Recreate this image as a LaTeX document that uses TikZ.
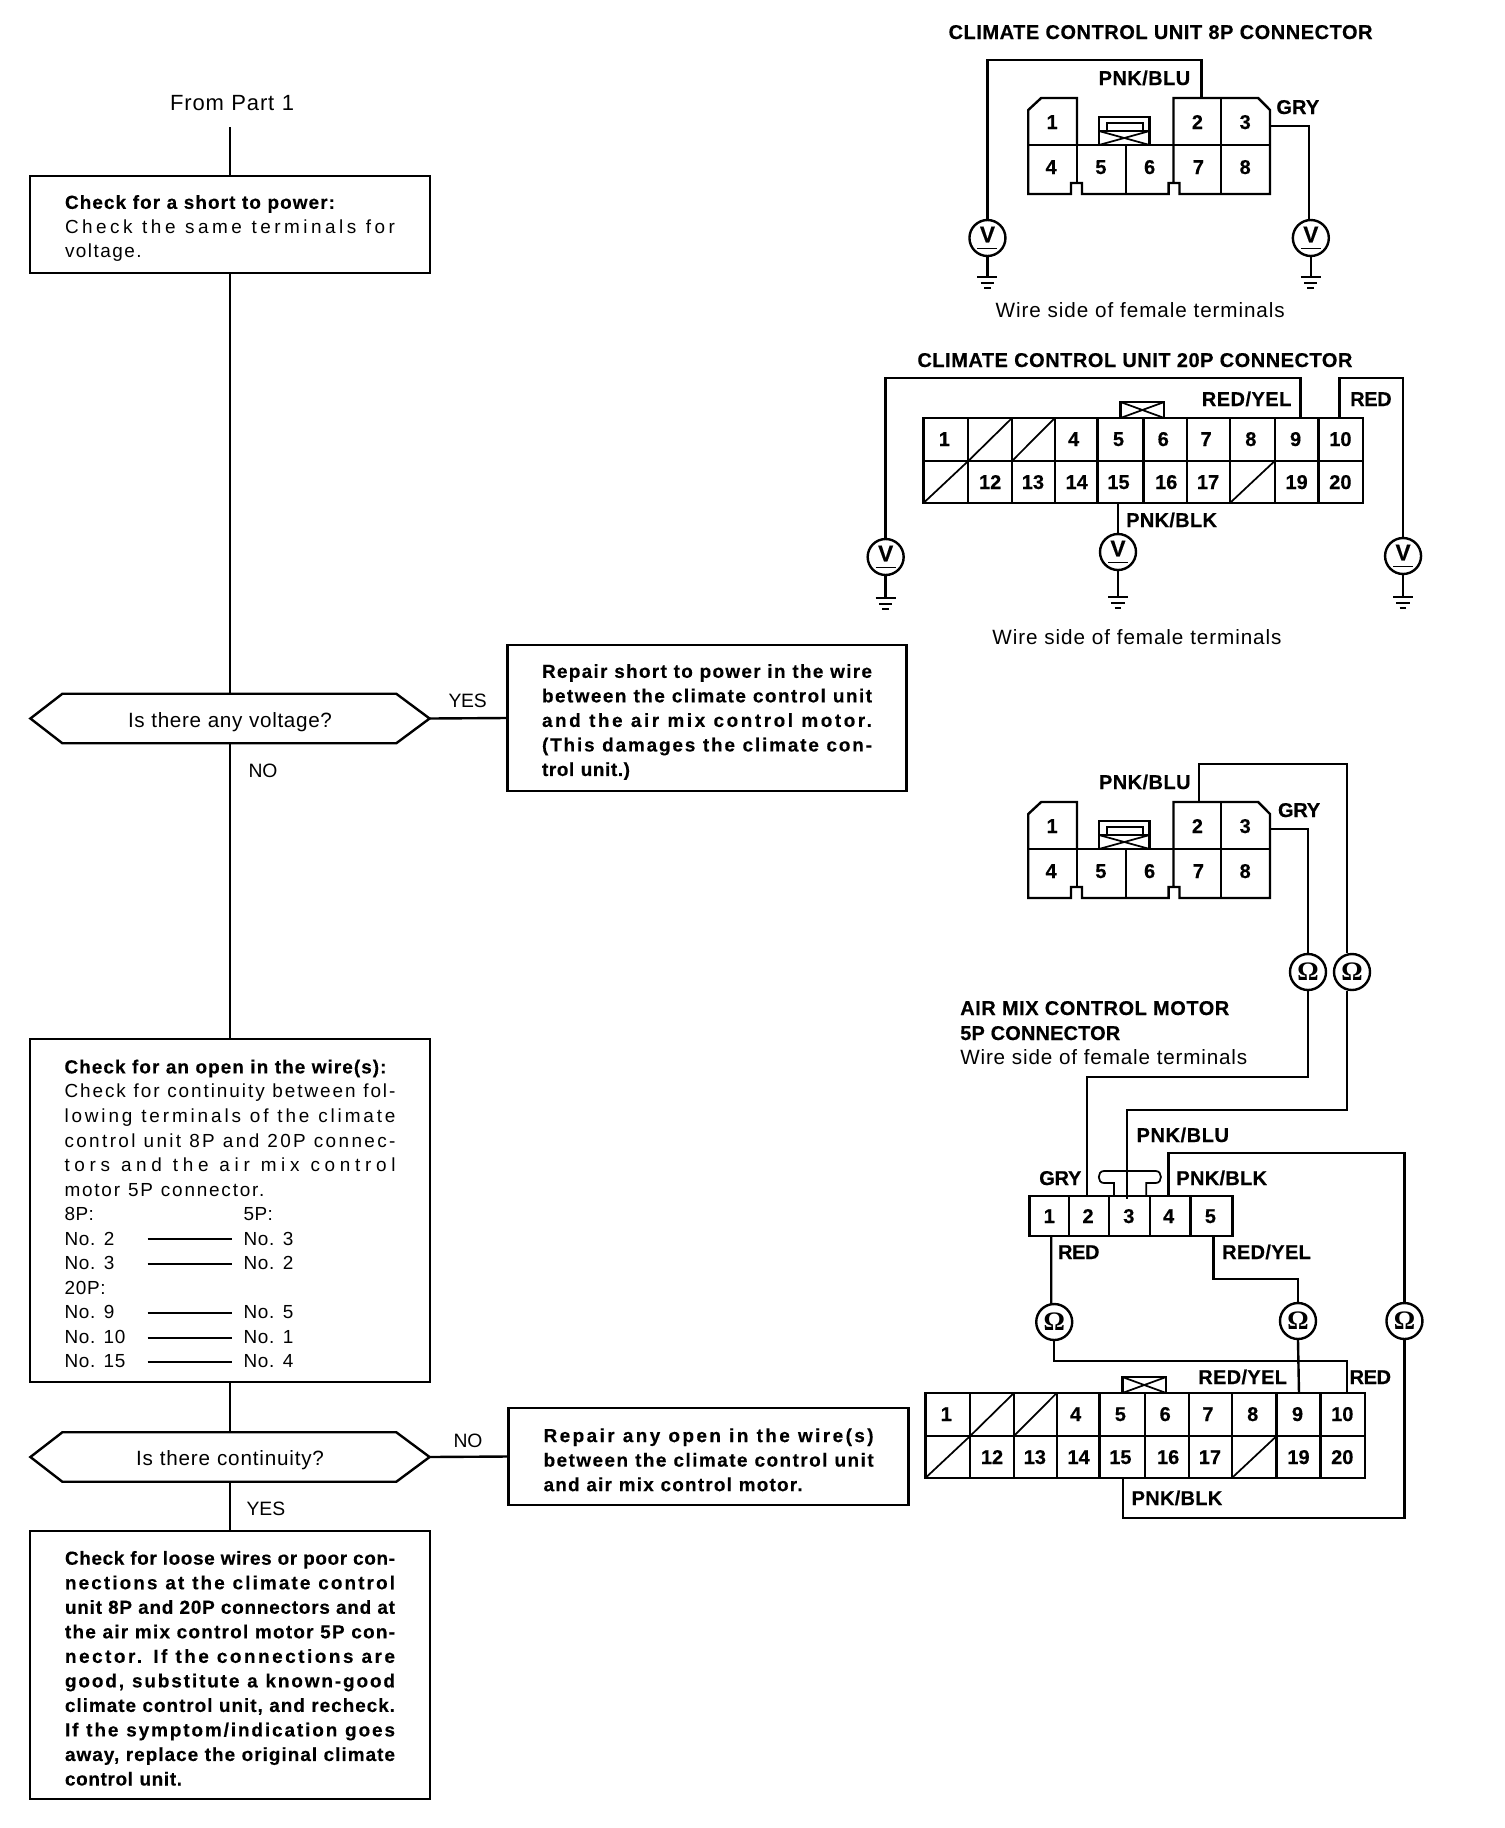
\documentclass[tikz,border=0pt]{standalone}
\usepackage{fontspec}
\setmainfont{Liberation Sans}[BoldFeatures={FakeBold=0.35}]
\newfontfamily\omegafont{Liberation Serif}
\ExplSyntaxOn
\NewDocumentCommand\FT{mm}{
  \group_begin:
  \hbox_set:Nn \l_tmpa_box {#2}
  \tl_set:Nx \l_tmpa_tl { \fp_eval:n { round( ( (#1)*0.75 - \dim_to_fp:n{\box_wd:N \l_tmpa_box} ) / \tl_count:n{#2} / \dim_to_fp:n{1em} * 100 , 2) } }
  \exp_args:Nx \addfontfeature { LetterSpace = \l_tmpa_tl }
  \hbox_to_wd:nn { \fp_to_dim:n { (#1)*0.75pt } } {#2}
  \group_end:
}
\ExplSyntaxOff
\tikzset{
  wire/.style={line width=1.8pt,line join=miter},
  thinw/.style={line width=1.3pt},
  flow/.style={line width=1.8pt},
  flowbox/.style={draw,line width=1.8pt,inner sep=0pt,font=\fontsize{14.2}{18.4}\selectfont},
  hexa/.style={inner sep=0pt,minimum width=299pt,minimum height=36.75pt,font=\fontsize{15.5}{18}\selectfont,text height=15pt,text depth=1.6pt},
  lab/.style={inner sep=0pt,font=\fontsize{15}{16}\selectfont\bfseries,text height=10.5pt,text depth=0pt},
  reg/.style={inner sep=0pt,font=\fontsize{15.5}{17}\selectfont,text height=10.5pt,text depth=0pt},
  yn/.style={inner sep=0pt,font=\fontsize{14.5}{17}\selectfont,text height=10.5pt,text depth=0pt},
  num/.style={inner sep=0pt,font=\fontsize{15}{16}\selectfont\bfseries,text height=10.5pt,text depth=0pt},
  meter/.style={draw,circle,line width=1.8pt,minimum size=27pt,inner sep=0pt},
}
\newcommand\Rowline[4]{\hbox{\hbox to 62.25pt{\FT{#2}{#1}\hss}\rule[3.5pt]{63pt}{1.5pt}\kern9pt \FT{#4}{#3}}}
\newcommand\VM[3]{\node[meter] (#1) at (#2,#3) {\vbox{\offinterlineskip\hsize=15pt\hbox to 15pt{\hss\fontsize{17}{17}\selectfont\bfseries V\hss}\kern4pt\hrule height 1.3pt}};}
\newcommand\OM[3]{\node[meter] (#1) at (#2,#3) {\fontsize{20}{20}\omegafont\bfseries Ω};}
\newcommand\GND[3]{\coordinate (#1) at (#2,#3);
  \draw[thinw] ([xshift=-7.5pt]#1) -- ([xshift=7.5pt]#1);
  \draw[thinw] ([shift={(-5pt,-4.5pt)}]#1) -- ([shift={(5pt,-4.5pt)}]#1);
  \draw[thinw] ([shift={(-2.5pt,-8.5pt)}]#1) -- ([shift={(2.5pt,-8.5pt)}]#1);}
\newcommand\EightP{%
  \draw[wire] (1029,145) -- (1029,110) -- (1042,98) -- (1078,98) -- (1078,145);
  \draw[wire] (1029,145) -- (1029,194) -- (1072,194) -- (1072,183) -- (1083,183) -- (1083,194) -- (1170,194) -- (1170,183) -- (1181,183) -- (1181,194) -- (1272,194) -- (1272,110) -- (1260,98) -- (1175,98) -- (1175,183);
  \draw[wire] (1029,145) -- (1272,145);
  \draw[wire] (1078,145) -- (1078,183);
  \draw[wire] (1127,145) -- (1127,194);
  \draw[wire] (1223,98) -- (1223,194);
  \draw[wire] (1100,145) -- (1100,117) -- (1151,117) -- (1151,145);
  \draw[thinw] (1108,123) rectangle (1144,131);
  \draw[thinw] (1100,131) -- (1151,131);
  \draw[thinw] (1100,131) -- (1151,145);
  \draw[thinw] (1151,131) -- (1100,145);
  \foreach \n/\xx in {1/1053,2/1199,3/1247} \node[num] (n\n) at (\xx,122) {\n};
  \foreach \n/\xx in {4/1052,5/1102,6/1151,7/1200,8/1247} \node[num] (n\n) at (\xx,167) {\n};
}
\newcommand\TwentyP{%
  \draw[wire] (924,418) rectangle (1366,503);
  \draw[wire] (924,461) -- (1366,461);
  \foreach \xx in {969,1013,1056,1099,1145,1189,1232,1277,1321} \draw[wire] (\xx,418) -- (\xx,503);
  \draw[thinw] (969,461) -- (1013,418);
  \draw[thinw] (1013,461) -- (1056,418);
  \draw[thinw] (924,503) -- (969,461);
  \draw[thinw] (1232,503) -- (1277,461);
  \draw[wire] (1122,418) -- (1122,402) -- (1166,402) -- (1166,418);
  \draw[thinw] (1122,402) -- (1166,418);
  \draw[thinw] (1166,402) -- (1122,418);
  \foreach \n/\xx in {1/945,4/1075,5/1120,6/1165,7/1208,8/1253,9/1298,10/1343} \node[num] (n\n) at (\xx,439) {\n};
  \foreach \n/\xx in {12/991,13/1034,14/1078,15/1120,16/1168,17/1210,19/1299,20/1343} \node[num] (n\n) at (\xx,482) {\n};
}
\begin{document}
\begin{tikzpicture}[x=0.75pt,y=-0.75pt]
\useasboundingbox (0,0) rectangle (1504,1828);
\fill[white] (0,0) rectangle (1504,1828);
% ---------- flow chart
\coordinate (start) at (230,127);
\node[yn,font=\fontsize{16.5}{18}\selectfont] (from) at (232,103) {\FT{124}{From Part 1}};
\node[flowbox,minimum width=300pt,minimum height=72.75pt] (b1) at (230,224.5) {\vbox{\kern6pt
  {\bfseries\FT{270}{Check for a short to power:}}
  \FT{330}{Check the same terminals for}
  \FT{78}{voltage.}}};
\node[hexa] (h1) at (230,718.5) {\FT{204}{Is there any voltage?}};
\draw[flow] (h1.west) -- ([xshift=24pt]h1.north west) -- ([xshift=-25pt]h1.north east) -- (h1.east) -- ([xshift=-25pt]h1.south east) -- ([xshift=24pt]h1.south west) -- cycle;
\node[flowbox,minimum width=299.25pt,minimum height=109.5pt] (r1) at (707,718) {\vbox{\kern6pt\bfseries
  \FT{330}{Repair short to power in the wire}
  \FT{330}{between the climate control unit}
  \FT{330}{and the air mix control motor.}
  \FT{330}{(This damages the climate con-}
  \FT{88}{trol unit.)}}};
\node[flowbox,minimum width=300pt,minimum height=257.25pt] (b2) at (230,1210.5) {\vbox{\kern5pt
  {\bfseries\FT{322}{Check for an open in the wire(s):}}
  \FT{331}{Check for continuity between fol-}
  \FT{331}{lowing terminals of the climate}
  \FT{331}{control unit 8P and 20P connec-}
  \FT{331}{tors and the air mix control}
  \FT{200}{motor 5P connector.}
  \hbox{\hbox to 134.25pt{\FT{30}{8P:}\hss}\FT{30}{5P:}}
  \Rowline{No. 2}{50}{No. 3}{50}
  \Rowline{No. 3}{50}{No. 2}{50}
  \hbox{\FT{42}{20P:}}
  \Rowline{No. 9}{50}{No. 5}{50}
  \Rowline{No. 10}{61}{No. 1}{50}
  \Rowline{No. 15}{61}{No. 4}{50}}};
\node[hexa] (h2) at (230,1457) {\FT{188}{Is there continuity?}};
\draw[flow] (h2.west) -- ([xshift=24pt]h2.north west) -- ([xshift=-25pt]h2.north east) -- (h2.east) -- ([xshift=-25pt]h2.south east) -- ([xshift=24pt]h2.south west) -- cycle;
\node[flowbox,minimum width=300pt,minimum height=72.75pt] (r2) at (708.6,1456.5) {\vbox{\kern5pt\bfseries
  \FT{330}{Repair any open in the wire(s)}
  \FT{330}{between the climate control unit}
  \FT{259}{and air mix control motor.}}};
\node[flowbox,minimum width=300pt,minimum height=201pt] (b3) at (230,1665) {\vbox{\kern5pt\bfseries
  \FT{330}{Check for loose wires or poor con-}
  \FT{330}{nections at the climate control}
  \FT{330}{unit 8P and 20P connectors and at}
  \FT{330}{the air mix control motor 5P con-}
  \FT{330}{nector. If the connections are}
  \FT{330}{good, substitute a known-good}
  \FT{330}{climate control unit, and recheck.}
  \FT{330}{If the symptom/indication goes}
  \FT{330}{away, replace the original climate}
  \FT{117}{control unit.}}};
\draw[flow] (start) -- (b1.north);
\draw[flow] (b1.south) -- (h1.north);
\draw[flow] (h1.south) -- (b2.north);
\draw[flow] (h1.east) -- (r1.west);
\draw[flow] (b2.south) -- (h2.north);
\draw[flow] (h2.east) -- (r2.west);
\draw[flow] (h2.south) -- (b3.north);
\node[yn] (yes1) at (467.5,700) {\FT{38}{YES}};
\node[yn] (no1) at (263,770) {\FT{29}{NO}};
\node[yn] (no2) at (468,1440) {\FT{29}{NO}};
\node[yn] (yes2) at (266,1508) {\FT{39}{YES}};
% ---------- 8P connector with voltmeters
\begin{scope}[shift={(4.4,0)},xscale=0.995]
\node[lab] (t8) at (1162,32) {\FT{424}{CLIMATE CONTROL UNIT 8P CONNECTOR}};
\begin{scope}[name prefix=A-]
\EightP
\end{scope}
\coordinate (A2) at (1203,98);
\coordinate (A3) at (1272,126);
\node[lab] (Al1) at (1146,78) {\FT{92}{PNK/BLU}};
\node[lab] (Al2) at (1300,107) {\FT{43}{GRY}};
\VM{V1}{988}{238}
\VM{V2}{1313}{238}
\draw[wire] (A2) -- ++(0,-38) -| (V1.north);
\draw[wire] (A3) -| ([xshift=-1.2pt]V2.north);
\GND{G1}{988}{277}
\GND{G2}{1313}{277}
\draw[wire] (V1.south) -- (G1);
\draw[wire] (V2.south) -- (G2);
\node[reg] (ws1) at (1141.5,310) {\FT{289}{Wire side of female terminals}};
\end{scope}
% ---------- 20P connector with voltmeters
\begin{scope}[shift={(4.1,0)},xscale=0.995]
\node[lab] (t20) at (1136.5,360) {\FT{435}{CLIMATE CONTROL UNIT 20P CONNECTOR}};
\begin{scope}[name prefix=B-]
\TwentyP
\end{scope}
\coordinate (B9) at (1303,418);
\coordinate (B10) at (1342,418);
\coordinate (B15) at (1119.5,503);
\VM{V3}{886}{557}
\VM{V4}{1119.5}{552}
\VM{V5}{1406}{556}
\draw[wire] (B9) -- ++(0,-40) -| (V3.north);
\draw[wire] (B10) -- ++(0,-40) -| (V5.north);
\draw[wire] (B15) -- (V4.north);
\GND{G3}{886}{598}
\GND{G4}{1119.5}{597}
\GND{G5}{1406}{597}
\draw[wire] (V3.south) -- (G3);
\draw[wire] (V4.south) -- (G4);
\draw[wire] (V5.south) -- (G5);
\node[lab] (Bl1) at (1249,399) {\FT{90}{RED/YEL}};
\node[lab] (Bl2) at (1373.5,399) {\FT{41}{RED}};
\node[lab] (Bl3) at (1173.5,520) {\FT{91}{PNK/BLK}};
\node[reg] (ws2) at (1138.5,637) {\FT{289}{Wire side of female terminals}};
\end{scope}
% ---------- continuity: 8P
\begin{scope}[shift={(4.4,704)},xscale=0.995,name prefix=C-]
\EightP
\end{scope}
\coordinate (C2) at (1199,802);
\coordinate (C3) at (1270,829);
\node[lab] (Cl1) at (1145,782) {\FT{92}{PNK/BLU}};
\node[lab] (Cl2) at (1299,810) {\FT{42}{GRY}};
\OM{O1}{1308}{972}
\OM{O2}{1352}{972}
\node[lab,anchor=west] (am1) at (960,1008) {\FT{269}{AIR MIX CONTROL MOTOR}};
\node[lab,anchor=west] (am2) at (960,1033) {\FT{160}{5P CONNECTOR}};
\node[reg,anchor=west] (am3) at (960,1057) {\FT{287}{Wire side of female terminals}};
% ---------- 5P connector and lower 20P
\begin{scope}[shift={(4.5,0)},xscale=0.995]
\draw[wire] (1030,1196) rectangle (1234,1236);
\foreach \xx in {1070,1110,1151,1192} \draw[wire] (\xx,1196) -- (\xx,1236);
\foreach \n/\xx in {1/1050,2/1089,3/1130,4/1170,5/1212} \node[num] (f\n) at (\xx,1216) {\n};
\draw[thinw] (1115,1196) -- (1115,1183) -- (1105,1183) .. controls (1098,1183) and (1098,1171) .. (1105,1171) -- (1157,1171) .. controls (1164,1171) and (1164,1183) .. (1157,1183) -- (1147.5,1183) -- (1147.5,1196);
\coordinate (F1) at (1052,1236);
\coordinate (F2) at (1088,1196);
\coordinate (F3) at (1128,1199);
\coordinate (F4) at (1170,1196);
\coordinate (F5) at (1215,1236);
\node[lab] (Fl1) at (1184.5,1135) {\FT{93}{PNK/BLU}};
\node[lab] (Fl2) at (1061,1178) {\FT{42}{GRY}};
\node[lab] (Fl3) at (1223.5,1178) {\FT{91}{PNK/BLK}};
\node[lab] (Fl4) at (1079.5,1252) {\FT{41}{RED}};
\node[lab] (Fl5) at (1268.5,1252) {\FT{89}{RED/YEL}};
\begin{scope}[shift={(1.5,975)},name prefix=D-]
\TwentyP
\end{scope}
\coordinate (D9) at (1301,1393);
\coordinate (D10) at (1349,1393);
\coordinate (D15) at (1124,1478);
\node[lab] (Dl1) at (1244.5,1377) {\FT{89}{RED/YEL}};
\node[lab] (Dl2) at (1372.5,1377) {\FT{41}{RED}};
\node[lab] (Dl3) at (1178.5,1498) {\FT{91}{PNK/BLK}};
\OM{O3}{1055}{1322}
\OM{O4}{1300}{1321}
\OM{O5}{1407}{1321}
\end{scope}
% ---------- continuity wires
\draw[wire] (C3) -| (O1.north);
\draw[wire] (C2) -- ++(0,-38) -| ([xshift=-3.75pt]O2.north);
\draw[wire] (O1.south) -- ++(0,86) -| (F2);
\draw[wire] ([xshift=-3.75pt]O2.south) -- ++(0,119) -| (F3);
\draw[wire] (F4) -- ++(0,-43) -| (O5.north);
\draw[wire] (F1) -- ([xshift=-2.25pt]O3.north);
\draw[wire] (F5) -- ++(0,43) -| (O4.north);
\draw[wire] (O3.south) -- ++(0,20) -| (D10);
\draw[wire] (O4.south) -- (D9);
\draw[wire] (O5.south) -- ++(0,178) -| (D15);
\end{tikzpicture}
\end{document}
